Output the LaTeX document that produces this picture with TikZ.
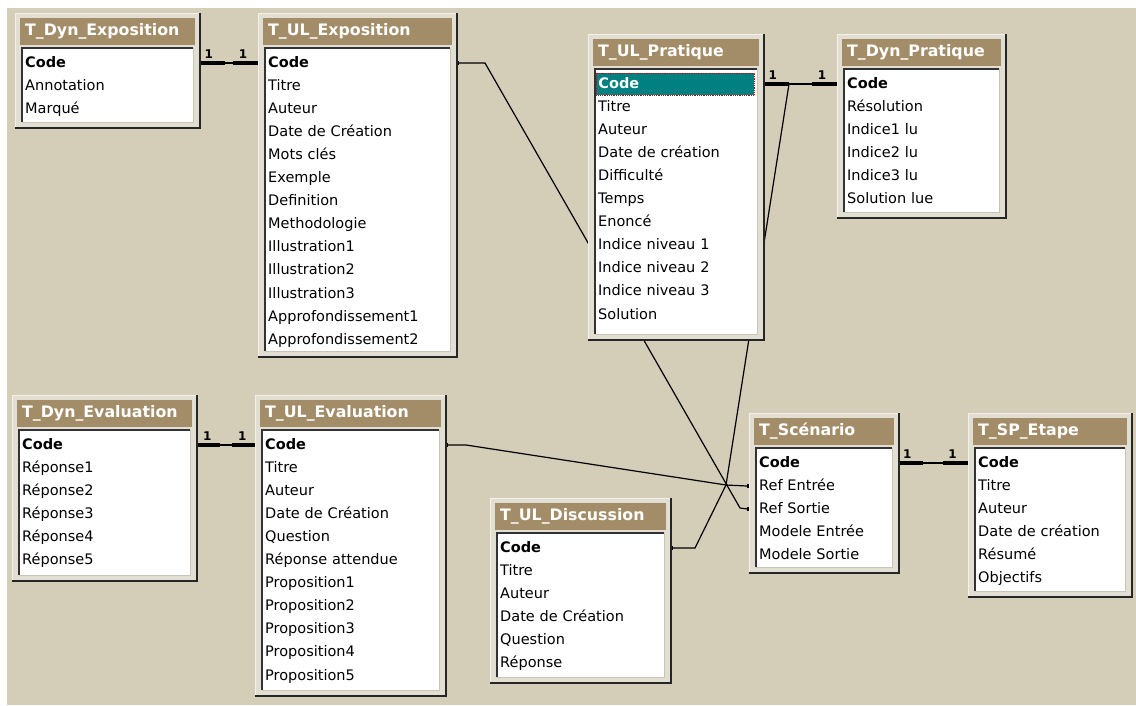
\documentclass[tikz,border=0pt]{standalone}
\usepackage{fontspec}
\setmainfont{DejaVu Sans}
\definecolor{deskbg}{RGB}{212,205,184}
\definecolor{framebg}{RGB}{226,222,210}
\definecolor{framehi}{RGB}{242,240,233}
\definecolor{titlebg}{RGB}{163,141,104}
\definecolor{bodyedge}{RGB}{200,196,184}
\definecolor{selteal}{RGB}{0,128,128}
\pgfdeclarelayer{bg}
\pgfdeclarelayer{lines}
\pgfsetlayers{bg,lines,main}
\tikzset{
  frame/.style={fill=framebg, draw=framehi, line width=1pt, inner sep=0pt, outer sep=0pt, anchor=north west},
  shade/.style={line width=2pt, black!85},
  titlebar/.style={fill=titlebg, inner sep=0pt, outer sep=0pt, minimum height=27pt, anchor=north west},
  titletext/.style={text=white, anchor=west, inner sep=0pt, text height=11pt, text depth=3pt, font=\fontsize{15.8}{18}\selectfont\bfseries},
  body/.style={fill=white, draw=bodyedge, line width=1pt, inner sep=0pt, outer sep=0pt, anchor=north west},
  inset/.style={line width=2pt, black!80},
  field/.style={anchor=west, inner xsep=2pt, inner ysep=0pt, minimum height=22pt, text height=11pt, text depth=3pt, align=left, font=\fontsize{14.5}{16}\selectfont},
  keyfield/.style={field, font=\fontsize{14.5}{16}\selectfont\bfseries},
  keysel/.style={keyfield, fill=selteal, text=white, draw=red!80!black, densely dotted, line width=0.8pt},
  link/.style={line width=1.2pt},
  onelink/.style={line width=3.5pt},
  onelbl/.style={font=\fontsize{12}{12}\selectfont\bfseries, inner sep=1pt}
}
% table: [first field style]{name}{left}{top}{right}{bottom}{title}{fields}
\newcommand{\dbtable}[8][keyfield]{
  \pgfmathsetmacro\tw{#5-#3-22}
  \node[frame, minimum width={#5-#3}, minimum height={#6-#4}] (#2) at (#3,#4) {};
  \draw[shade] (#2.north east) -- (#2.south east) -- (#2.south west);
  \node[titlebar, minimum width={#5-#3-10}] (#2-t) at (#3+5,#4+5) {};
  \node[titletext] (#2-n) at ([xshift=5pt]#2-t.west) {#7};
  \node[body, minimum width={#5-#3-14}, minimum height={#6-#4-41}] (#2-b) at (#3+7,#4+35) {};
  \draw[inset] (#2-b.south west) -- (#2-b.north west) -- (#2-b.north east);
  \foreach \f [count=\i] in {#8}{
    \pgfmathsetmacro\fy{#4+50+(\i-1)*23.1}
    \ifnum\i=1
      \node[#1, text width=\tw pt] (#2-\i) at (#3+8,\fy) {\f};
    \else
      \node[field, text width=\tw pt] (#2-\i) at (#3+8,\fy) {\f};
    \fi
  }
}
\begin{document}
\begin{tikzpicture}[x=1pt, y=-1pt]
\useasboundingbox (0,0) rectangle (1136,705);
\begin{pgfonlayer}{bg}
\fill[white] (0,0) rectangle (1136,705);
\fill[deskbg] (7,8) rectangle (1136,705);
\end{pgfonlayer}

\dbtable{dexp}{15}{13}{200}{128}{T\_Dyn\_Exposition}{Code,Annotation,Marqué}
\dbtable{uexp}{258}{13}{457}{357}{T\_UL\_Exposition}{Code,Titre,Auteur,Date de Création,Mots clés,Exemple,Definition,Methodologie,Illustration1,Illustration2,Illustration3,Approfondissement1,Approfondissement2}
\dbtable[keysel]{upra}{588}{34}{764}{340}{T\_UL\_Pratique}{Code,Titre,Auteur,Date de création,Difficulté,Temps,Enoncé,Indice niveau 1,Indice niveau 2,Indice niveau 3,Solution}
\dbtable{dpra}{837}{34}{1006}{218}{T\_Dyn\_Pratique}{Code,Résolution,Indice1 lu,Indice2 lu,Indice3 lu,Solution lue}
\dbtable{deva}{12}{395}{197}{581}{T\_Dyn\_Evaluation}{Code,Réponse1,Réponse2,Réponse3,Réponse4,Réponse5}
\dbtable{ueva}{255}{395}{446}{696}{T\_UL\_Evaluation}{Code,Titre,Auteur,Date de Création,Question,Réponse attendue,Proposition1,Proposition2,Proposition3,Proposition4,Proposition5}
\dbtable{udis}{490}{498}{671}{683}{T\_UL\_Discussion}{Code,Titre,Auteur,Date de Création,Question,Réponse}
\dbtable{scen}{749}{413}{899}{573}{T\_Scénario}{Code,Ref Entrée,Ref Sortie,Modele Entrée,Modele Sortie}
\dbtable{spet}{968}{413}{1132}{597}{T\_SP\_Etape}{Code,Titre,Auteur,Date de création,Résumé,Objectifs}

\begin{pgfonlayer}{lines}
\coordinate (jent) at (726,485);
\coordinate (jsor) at (740,508);
\draw[link] (dexp.east |- dexp-1) -- (uexp.west |- uexp-1);
\draw[onelink] (dexp.east |- dexp-1) -- ++(25,0) node[onelbl, pos=.35, above=2pt] (one1) {1};
\draw[onelink] (uexp.west |- uexp-1) -- ++(-25,0) node[onelbl, pos=.6, above=2pt] (one2) {1};
\draw[link] (upra.east |- upra-1) -- (dpra.west |- dpra-1);
\draw[onelink] (upra.east |- upra-1) -- ++(25,0) node[onelbl, pos=.35, above=2pt] (one3) {1};
\draw[onelink] (dpra.west |- dpra-1) -- ++(-25,0) node[onelbl, pos=.6, above=2pt] (one4) {1};
\draw[link] (deva.east |- deva-1) -- (ueva.west |- ueva-1);
\draw[onelink] (deva.east |- deva-1) -- ++(23,0) node[onelbl, pos=.45, above=2pt] (one5) {1};
\draw[onelink] (ueva.west |- ueva-1) -- ++(-23,0) node[onelbl, pos=.55, above=2pt] (one6) {1};
\draw[link] (scen.east |- scen-1) -- (spet.west |- spet-1);
\draw[onelink] (scen.east |- scen-1) -- ++(24,0) node[onelbl, pos=.35, above=2pt] (one7) {1};
\draw[onelink] (spet.west |- spet-1) -- ++(-25,0) node[onelbl, pos=.62, above=2pt] (one8) {1};
\draw[link] (uexp.east |- uexp-1) -- ++(28,0) -- (jsor) -- (scen.west |- scen-3);
\draw[link] (upra.east |- upra-1) -- ++(25,0) -- (jent) -- (scen.west |- scen-2);
\draw[link] (ueva.east |- ueva-1) -- ++(20,0) -- (jent);
\draw[link] (udis.east |- udis-1) -- ++(24,0) -- (jent);
\foreach \p in {uexp.east |- uexp-1, ueva.east |- ueva-1, udis.east |- udis-1, scen.west |- scen-2, scen.west |- scen-3}
  \fill (\p) +(-2,-2) rectangle +(2,2);
\end{pgfonlayer}
\end{tikzpicture}
\end{document}
